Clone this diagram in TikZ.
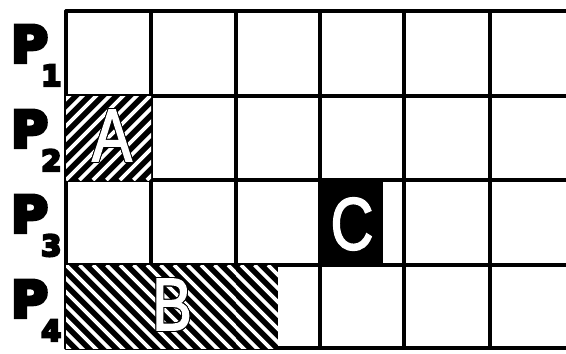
\documentclass[tikz,border=0pt]{standalone}
\usepackage{fontspec}
\setmainfont{Liberation Sans}
\newfontfamily\heavyfont{DejaVu Sans}[BoldFeatures={FakeBold=8}]
\newfontfamily\letterfont{Liberation Sans}[FakeBold=2.5]
\usepackage{contour}
\contourlength{1pt}
\contournumber{16}

\begin{document}
\begin{tikzpicture}[
  x=1pt, y=-1pt,
  gridline/.style={line width=3.2pt, line cap=round},
  hatchline/.style={white, line width=3.8pt},
  plabel/.style={font=\heavyfont\bfseries\fontsize{50}{50}\selectfont, inner sep=0pt, anchor=base west},
  psub/.style={font=\heavyfont\bfseries\fontsize{29}{29}\selectfont, inner sep=0pt, anchor=base west},
  bigletter/.style={font=\letterfont\fontsize{74}{74}\selectfont, inner sep=0pt, xscale=0.8, text=white},
]
\useasboundingbox (0,0) rectangle (566,354);

% grid
\foreach \yy in {11,96,180,265,348}
  \draw[gridline] (66,\yy) -- (566,\yy);
\foreach \xx in {66,151,236,320,404,490}
  \draw[gridline] (\xx,11) -- (\xx,348);

% hatched block A
\begin{scope}
  \clip (66,96) rectangle (151,180);
  \fill (66,96) rectangle (151,180);
  \foreach \k in {-8,...,8}
    \draw[hatchline] ({66+\k*13.5},180) -- ++(90,-90);
\end{scope}

% hatched block B
\begin{scope}
  \clip (66,265) rectangle (236,348);
  \fill (66,265) rectangle (236,348);
  \foreach \k in {-8,...,14}
    \draw[hatchline] ({66+\k*13.5},265) -- ++(90,90);
\end{scope}
\begin{scope}
  \clip (236,265) rectangle (278,348);
  \fill (236,265) rectangle (278,348);
  \foreach \k in {-8,...,4}
    \draw[hatchline] ({241+\k*13.5},265) -- ++(90,90);
\end{scope}

% black block C
\fill (318,180) rectangle (383,266);

% letters
\node[bigletter] (lblA) at (112,136) {\contour{black}{A}};
\node[bigletter] (lblB) at (172,305) {\contour{black}{B}};
\node[bigletter] (lblC) at (352,224) {C};

% row labels
\foreach \i in {1,...,4} {
  \node[plabel] (P\i) at (11,{11+85*(\i-1)+51}) {P};
  \node[psub] (S\i) at (41,{11+85*(\i-1)+75}) {\i};
}
\end{tikzpicture}
\end{document}
